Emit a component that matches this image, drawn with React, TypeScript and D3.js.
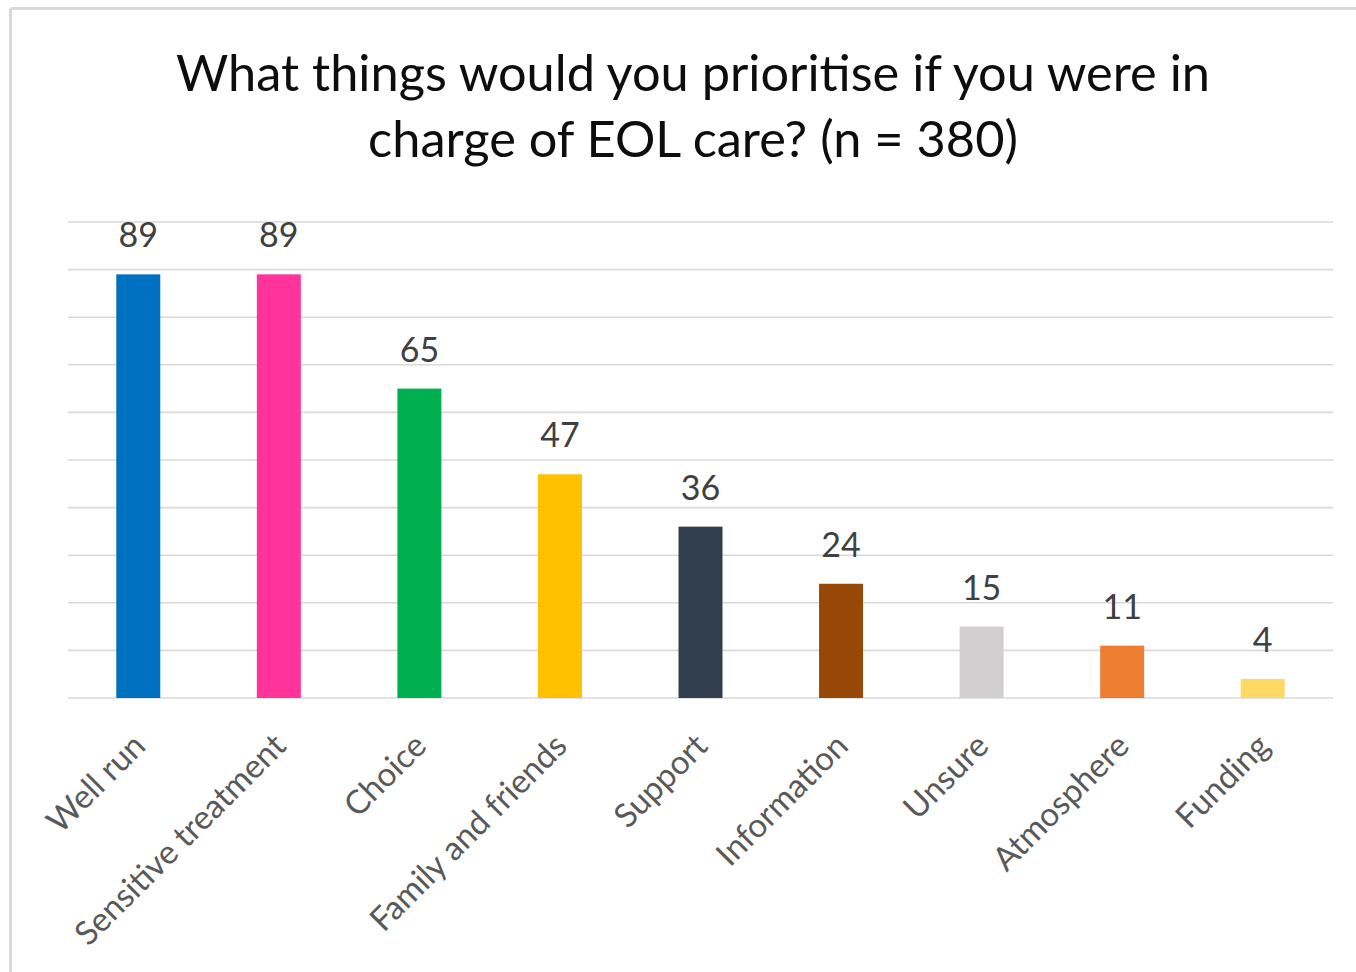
import React from "react";
import * as d3 from "d3";

const categories = [
  "Well run",
  "Sensitive treatment",
  "Choice",
  "Family and friends",
  "Support",
  "Information",
  "Unsure",
  "Atmosphere",
  "Funding",
];
const values = [89, 89, 65, 47, 36, 24, 15, 11, 4];
const barColors = [
  "#0070C0",
  "#FF3399",
  "#00B050",
  "#FFC000",
  "#323F4F",
  "#974706",
  "#D0CECE",
  "#ED7D31",
  "#FFD966",
];
const gridTicks = [0, 10, 20, 30, 40, 50, 60, 70, 80, 90, 100];
const titleLines = [
  "What things would you prioritise if you were in",
  "charge of EOL care? (n = 380)",
];

const W = 1356;
const H = 972;
const FONT = "Lato, Carlito, Calibri, 'Open Sans', sans-serif";

export default function App() {
  const x = d3
    .scaleBand<string>()
    .domain(categories)
    .range([68, 1333])
    .paddingInner(0.687)
    .paddingOuter(0.3435);
  const y = d3.scaleLinear().domain([0, 100]).range([698, 222]);

  return (
    <svg
      width={W}
      height={H}
      style={{ position: "absolute", left: 0, top: 0, background: "#fff" }}
      fontFamily={FONT}
    >
      <rect x={0} y={0} width={W} height={H} fill="#ffffff" />
      {/* chart frame (left and top edges visible) */}
      <line x1={10.5} y1={8.5} x2={W} y2={8.5} stroke="#d9d9d9" strokeWidth={3} />
      <line x1={10.5} y1={8.5} x2={10.5} y2={H} stroke="#d9d9d9" strokeWidth={3} />

      {/* title */}
      {titleLines.map((t, i) => (
        <text
          key={i}
          x={693}
          y={91 + i * 66}
          textAnchor="middle"
          fontSize={50.5}
          fill="#0d0d0d"
        >
          {t}
        </text>
      ))}

      {/* gridlines */}
      {gridTicks.map((t) => (
        <line
          key={t}
          x1={68}
          x2={1333}
          y1={y(t)}
          y2={y(t)}
          stroke="#d9d9d9"
          strokeWidth={1.6}
        />
      ))}

      {/* bars */}
      {categories.map((c, i) => (
        <rect
          key={c}
          x={x(c)}
          y={y(values[i])}
          width={x.bandwidth()}
          height={y(0) - y(values[i])}
          fill={barColors[i]}
        />
      ))}

      {/* data labels */}
      {categories.map((c, i) => (
        <text
          key={c}
          x={(x(c) as number) + x.bandwidth() / 2}
          y={y(values[i]) - 27}
          textAnchor="middle"
          fontSize={34}
          fill="#404040"
        >
          {values[i]}
        </text>
      ))}

      {/* category labels */}
      {categories.map((c) => (
        <text
          key={c}
          transform={`translate(${(x(c) as number) + x.bandwidth() / 2 + 9},${748}) rotate(-45)`}
          textAnchor="end"
          fontSize={33}
          fill="#595959"
        >
          {c}
        </text>
      ))}
    </svg>
  );
}
